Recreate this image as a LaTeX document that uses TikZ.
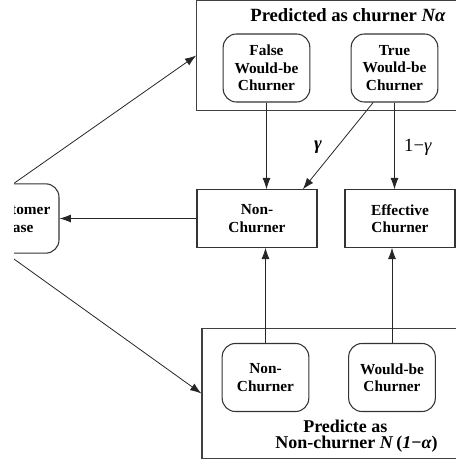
\documentclass[tikz,border=0pt]{standalone}
\usepackage{fontspec}
\setmainfont{Liberation Serif}
\usetikzlibrary{arrows.meta,positioning}

\begin{document}
\begin{tikzpicture}[
  x=0.75pt,y=-0.75pt,
  frame/.style={draw=black!75,line width=0.9pt,inner sep=0pt},
  box/.style={draw=black!80,line width=0.8pt,align=center,inner sep=2pt,font=\fontsize{11.5}{13}\selectfont\bfseries},
  rbox/.style={box,rounded corners=10pt,minimum width=65pt,minimum height=51pt},
  arr/.style={-{Latex[length=8.5pt,width=6pt]},draw=black!85,line width=0.6pt},
  lbl/.style={inner sep=0pt,font=\fontsize{14}{16}\selectfont}
]
\useasboundingbox (0,0) rectangle (456,465);
\clip (14,0) rectangle (456,465);

% outer frames
\node[frame,minimum width=205pt,minimum height=82pt] (pc) at (333.5,55.5) {};
\node[frame,minimum width=201pt,minimum height=97pt] (pn) at (336,393.5) {};
\node[lbl,font=\fontsize{14}{16}\selectfont\bfseries] (pctitle) at (348,15) {Predicted as churner \textit{Nα}};
\node[lbl,anchor=west,align=left,font=\fontsize{13.5}{12}\selectfont\bfseries] (pntitle) at (275,436)
  {\hspace{21pt}Predicte as\\Non-churner \textit{N}\,(\textit{1}−\textit{α})};

% inner boxes
\node[rbox] (fwc) at (266.5,68) {False\\Would-be\\Churner};
\node[rbox] (twc) at (394.5,68) {True\\Would-be\\Churner};
\node[rbox] (bnc) at (265.5,377.5) {Non-\\Churner};
\node[rbox] (bwc) at (392,377.5) {Would-be\\Churner};

% middle row
\node[box,minimum width=90pt,minimum height=43pt] (nch) at (257,218.5) {Non-\\Churner};
\node[box,minimum width=82.5pt,minimum height=43pt] (ech) at (400,218.5) {Effective\\Churner};
\node[rbox,minimum width=61.5pt,minimum height=52pt] (cust) at (18,218.5) {Customer\\Base};

\draw[arr] (fwc.south) -- (fwc.south |- nch.north);
\draw[arr] (twc.south) -- (twc.south |- ech.north);
\draw[arr] ([xshift=-16pt]twc.south) -- ([xshift=-11pt]nch.north east);
\draw[arr] (bnc.north) -- (bnc.north |- nch.south);
\draw[arr] (bwc.north) -- (bwc.north |- ech.south);
\draw[arr] (nch.west) -- (cust.east);
\draw[arr] ([xshift=-3pt]cust.north) -- (pc.west);
\draw[arr] ([xshift=-3pt,yshift=-4pt]cust.south) -- (pn.west);

\node[lbl,font=\fontsize{14}{16}\selectfont\bfseries] (g) at (318,147) {\textit{γ}};
\node[lbl] (omg) at (418,147) {1−\textit{γ}};
\end{tikzpicture}
\end{document}
